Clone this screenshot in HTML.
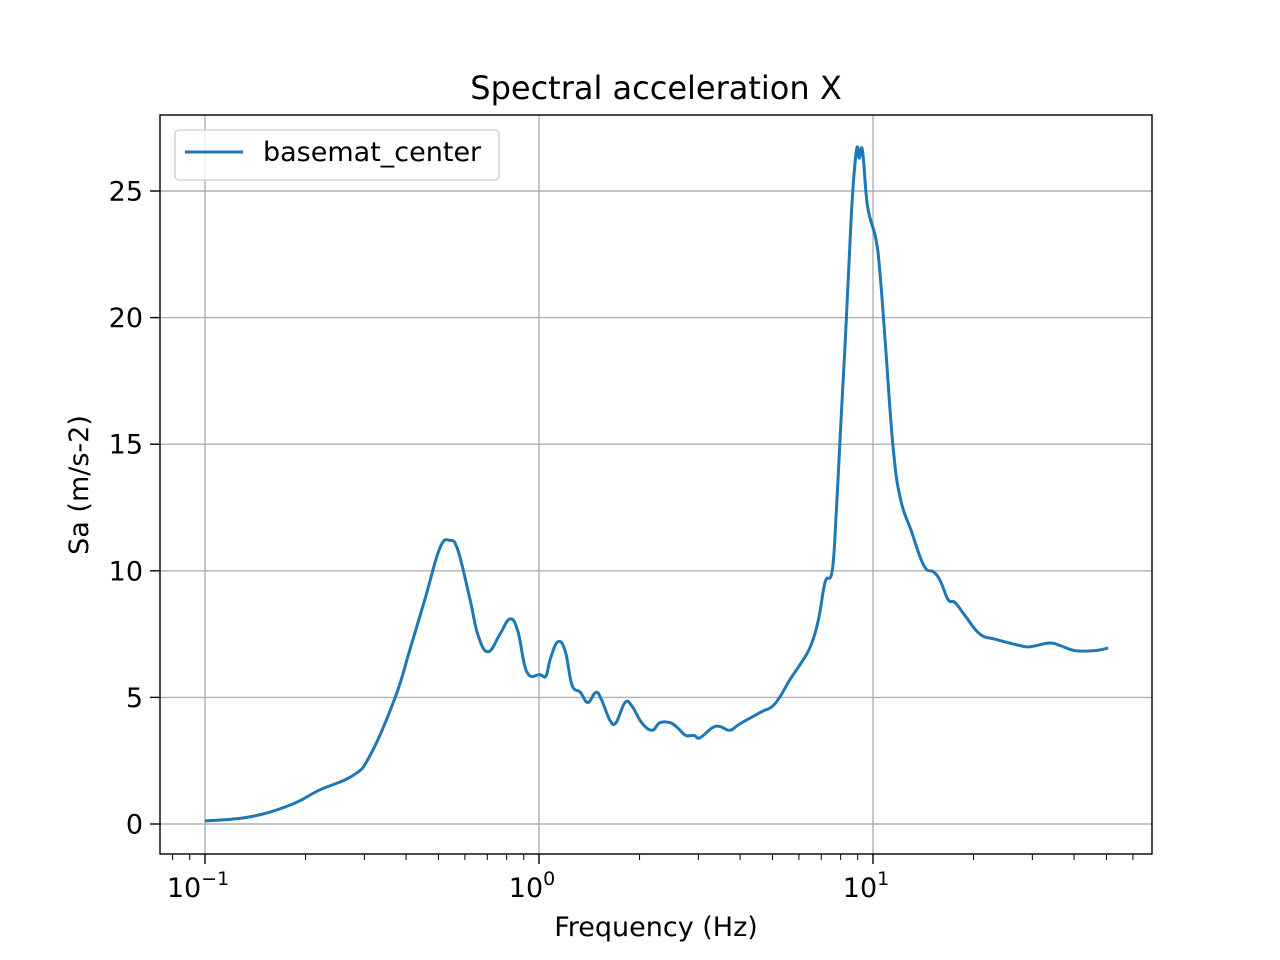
<!DOCTYPE html>
<html><head><meta charset="utf-8"><style>
body{margin:0;background:#fff}
svg{display:block;font-family:"DejaVu Sans","Liberation Sans",sans-serif}
</style></head><body>
<svg id="chart" width="1280" height="960" viewBox="0 0 1280 960">
<rect width="1280" height="960" fill="#fff"/>
<g id="grid"></g>
<g id="ticks"></g>
<path id="line" fill="none" stroke="#1f77b4" stroke-width="3" stroke-linejoin="round"/>
<rect x="160" y="115" width="992" height="739" fill="none" stroke="#000" stroke-width="1.4"/>
<text x="656" y="99" font-size="32" text-anchor="middle">Spectral acceleration X</text>
<text x="656" y="936" font-size="27" text-anchor="middle">Frequency (Hz)</text>
<text transform="translate(88,485) rotate(-90)" font-size="27" text-anchor="middle">Sa (m/s-2)</text>
<g>
<rect x="175" y="130" width="324" height="50" rx="4" fill="#fff" fill-opacity="0.8" stroke="#ccc" stroke-width="1.3"/>
<line x1="185" y1="152" x2="243" y2="152" stroke="#1f77b4" stroke-width="3"/>
<text x="263" y="161" font-size="27">basemat_center</text>
</g>
</svg>
<script>
const freqs=[0.1,0.136,0.18,0.221,0.276,0.312,0.371,0.411,0.456,0.505,0.541,0.572,0.622,0.657,0.704,0.764,0.819,0.865,0.92,1.007,1.05,1.08,1.14,1.2,1.255,1.33,1.40,1.48,1.54,1.63,1.70,1.81,1.90,2.03,2.18,2.30,2.47,2.60,2.75,2.91,3.03,3.30,3.48,3.73,3.99,4.59,5.09,5.64,6.05,6.49,6.86,7.19,7.55,7.77,7.98,8.26,8.61,8.92,9.1,9.30,9.63,10.2,10.5,10.9,11.5,12.1,13.0,14.2,15.2,15.9,16.8,17.6,18.8,20.9,23.2,27.5,29.5,33.8,36.3,40.2,46.2,50.6];
const sa=[0.12,0.28,0.75,1.35,1.9,2.7,5.0,6.9,8.9,10.9,11.2,10.8,8.85,7.45,6.8,7.5,8.1,7.6,6.0,5.9,5.85,6.5,7.2,6.8,5.5,5.2,4.8,5.2,4.9,4.1,4.0,4.8,4.65,4.0,3.7,4.0,4.0,3.8,3.5,3.5,3.4,3.8,3.85,3.7,3.95,4.4,4.75,5.7,6.3,7.0,8.05,9.55,10.0,12.4,15.4,19.1,24.05,26.6,26.3,26.6,24.4,23.1,21.7,18.9,14.8,12.8,11.6,10.2,9.95,9.6,8.85,8.75,8.25,7.5,7.3,7.05,7.0,7.15,7.05,6.85,6.85,6.95];
const yTicks=[0,5,10,15,20,25];
const xDecades=[-1,0,1];
const NS="http://www.w3.org/2000/svg";
const X=f=>539+334*Math.log10(f);
const Y=v=>824-25.32*v;
function mk(tag,attrs,parent){const e=document.createElementNS(NS,tag);for(const k in attrs)e.setAttribute(k,attrs[k]);parent.appendChild(e);return e;}
const grid=document.getElementById('grid'),ticks=document.getElementById('ticks');
yTicks.forEach(v=>{
 const y=Y(v);
 const g=mk('line',{x1:160,x2:1152,y1:y,y2:y,stroke:'#b0b0b0','stroke-width':1.4},grid);
 
 
 mk('line',{x1:150,x2:160,y1:y,y2:y,stroke:'#000','stroke-width':1.4},ticks);
 const t=mk('text',{x:143,y:y+9.5,'font-size':27,'text-anchor':'end'},ticks);
 
 
 t.textContent=v;
});
xDecades.forEach(d=>{
 const x=X(Math.pow(10,d));
 const g=mk('line',{x1:x,x2:x,y1:115,y2:854,stroke:'#b0b0b0','stroke-width':1.4},grid);
 
 
 mk('line',{x1:x,x2:x,y1:854,y2:864,stroke:'#000','stroke-width':1.4},ticks);
 const t=mk('text',{x:x-7,y:897,'font-size':27,'text-anchor':'middle'},ticks);
 
 
 t.textContent='10';
 const s=mk('tspan',{dy:-12,'font-size':19},t);s.textContent=String(d).replace('-','\u2212');
});
for(let d=-2;d<=1;d++)for(let m=2;m<=9;m++){
 const x=X(m*Math.pow(10,d));
 if(x<160||x>1152)continue;
 mk('line',{x1:x,x2:x,y1:854,y2:860,stroke:'#000','stroke-width':1},ticks);
}
const P=freqs.map((f,i)=>[X(f),Y(sa[i])]);
let dstr='M'+P[0][0].toFixed(1)+','+P[0][1].toFixed(1);
for(let i=0;i<P.length-1;i++){
 const p0=P[Math.max(0,i-1)],p1=P[i],p2=P[i+1],p3=P[Math.min(P.length-1,i+2)];
 const t=0.2;
 const c1=[p1[0]+(p2[0]-p0[0])*t,p1[1]+(p2[1]-p0[1])*t];
 const c2=[p2[0]-(p3[0]-p1[0])*t,p2[1]-(p3[1]-p1[1])*t];
 dstr+='C'+c1[0].toFixed(1)+','+c1[1].toFixed(1)+' '+c2[0].toFixed(1)+','+c2[1].toFixed(1)+' '+p2[0].toFixed(1)+','+p2[1].toFixed(1);
}
document.getElementById('line').setAttribute('d',dstr);
</script>
</body></html>
